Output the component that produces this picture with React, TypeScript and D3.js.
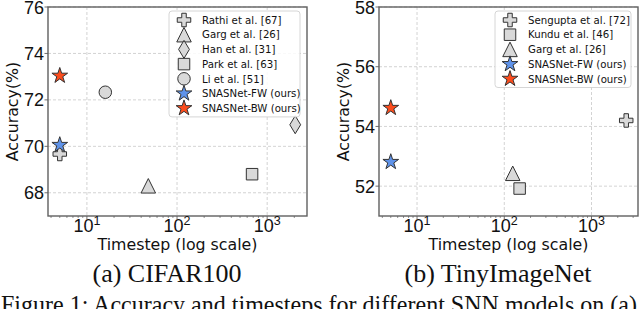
import * as React from "react";
import * as d3 from "d3";

// CIFAR100 panel
const cifarMethods = [
  "Rathi et al. [67]",
  "Garg et al. [26]",
  "Han et al. [31]",
  "Park et al. [63]",
  "Li et al. [51]",
  "SNASNet-FW (ours)",
  "SNASNet-BW (ours)",
];
const cifarMarkers = ["plus", "triangle", "diamond", "square", "circle", "starFW", "starBW"];
const cifarTimesteps = [5, 48, 2048, 680, 16, 5, 5];
const cifarAccuracy = [69.67, 68.3, 70.93, 68.8, 72.33, 70.06, 73.04];
const cifarYTicks = [68, 70, 72, 74, 76];

// TinyImageNet panel
const tinyMethods = [
  "Sengupta et al. [72]",
  "Kundu et al. [46]",
  "Garg et al. [26]",
  "SNASNet-FW (ours)",
  "SNASNet-BW (ours)",
];
const tinyMarkers = ["plus", "square", "triangle", "starFW", "starBW"];
const tinyTimesteps = [2500, 150, 125, 5, 5];
const tinyAccuracy = [54.2, 51.92, 52.43, 52.81, 54.62];
const tinyYTicks = [52, 54, 56, 58];

const xTickExponents = [1, 2, 3];

// custom marker shapes (size = marker width in px)
const plusType = {
  draw(ctx: any, s: number) {
    const a = s / 6;
    const pts = [
      [-a, -3 * a], [a, -3 * a], [a, -a], [3 * a, -a], [3 * a, a], [a, a],
      [a, 3 * a], [-a, 3 * a], [-a, a], [-3 * a, a], [-3 * a, -a], [-a, -a],
    ];
    ctx.moveTo(pts[0][0], pts[0][1]);
    pts.slice(1).forEach((p) => ctx.lineTo(p[0], p[1]));
    ctx.closePath();
  },
};
const triangleType = {
  draw(ctx: any, s: number) {
    const h = s / 2;
    ctx.moveTo(0, -h);
    ctx.lineTo(h, h);
    ctx.lineTo(-h, h);
    ctx.closePath();
  },
};
const diamondType = {
  draw(ctx: any, s: number) {
    ctx.moveTo(0, -s / 2);
    ctx.lineTo(0.3 * s, 0);
    ctx.lineTo(0, s / 2);
    ctx.lineTo(-0.3 * s, 0);
    ctx.closePath();
  },
};
const squareType = {
  draw(ctx: any, s: number) {
    ctx.rect(-s / 2, -s / 2, s, s);
  },
};
const circleType = {
  draw(ctx: any, s: number) {
    ctx.moveTo(s / 2, 0);
    ctx.arc(0, 0, s / 2, 0, 2 * Math.PI);
  },
};
const starType = {
  draw(ctx: any, s: number) {
    const r = s / 2;
    const ri = r * 0.382;
    for (let i = 0; i < 10; i++) {
      const ang = -Math.PI / 2 + (i * Math.PI) / 5;
      const rr = i % 2 === 0 ? r : ri;
      const x = rr * Math.cos(ang);
      const y = rr * Math.sin(ang);
      if (i === 0) ctx.moveTo(x, y);
      else ctx.lineTo(x, y);
    }
    ctx.closePath();
  },
};

const markerStyle: any = {
  plus: { type: plusType, size: 13.5, fill: "#d9d9d9" },
  triangle: { type: triangleType, size: 14.5, fill: "#d9d9d9" },
  diamond: { type: diamondType, size: 18, fill: "#d9d9d9" },
  square: { type: squareType, size: 11.5, fill: "#d9d9d9" },
  circle: { type: circleType, size: 12.5, fill: "#d9d9d9" },
  starFW: { type: starType, size: 16.5, fill: "#5f93ea" },
  starBW: { type: starType, size: 16.5, fill: "#fc4c1c" },
};

const markerPath = (kind: string) =>
  d3.symbol().type(markerStyle[kind].type).size(markerStyle[kind].size)() as string;

const tickFont = "Liberation Sans, Arial, sans-serif";
const labelFont = "DejaVu Sans, sans-serif";
const serifFont = "Liberation Serif, Times New Roman, serif";

function Panel(props: any) {
  const { left, right, top, bottom, yDomain, yTicks, methods, markers, timesteps, accuracy, legendWidth, caption } = props;

  // matplotlib-style 5% margin on the log axis
  const logExt = d3.extent(timesteps.map((t: number) => Math.log10(t))) as [number, number];
  const pad = (logExt[1] - logExt[0]) * 0.05;
  const x = d3
    .scaleLog()
    .domain([Math.pow(10, logExt[0] - pad), Math.pow(10, logExt[1] + pad)])
    .range([left, right]);
  const y = d3.scaleLinear().domain(yDomain).range([bottom, top]);

  const [dx0, dx1] = x.domain();
  const minor: number[] = [];
  for (let e = Math.floor(Math.log10(dx0)); e <= Math.ceil(Math.log10(dx1)); e++) {
    for (let k = 2; k <= 9; k++) {
      const v = k * Math.pow(10, e);
      if (v >= dx0 && v <= dx1) minor.push(v);
    }
  }

  const legRight = right - 7;
  const legTop = top + 4;
  const rowH = 14.7;
  const legH = methods.length * rowH + 3;
  const legLeft = legRight - legendWidth;
  const cx = (left + right) / 2;

  return (
    <g>
      {/* grid */}
      {xTickExponents.map((e) => (
        <line key={"gx" + e} x1={x(Math.pow(10, e))} x2={x(Math.pow(10, e))} y1={top} y2={bottom}
          stroke="#c8c8c8" strokeWidth={0.8} strokeDasharray="3,2" />
      ))}
      {yTicks.map((t: number) => (
        <line key={"gy" + t} x1={left} x2={right} y1={y(t)} y2={y(t)}
          stroke="#c8c8c8" strokeWidth={0.8} strokeDasharray="3,2" />
      ))}

      {/* points */}
      {markers.map((m: string, i: number) => (
        <path key={"p" + i} d={markerPath(m)}
          transform={`translate(${x(timesteps[i])},${y(accuracy[i])})`}
          fill={markerStyle[m].fill} stroke="#333" strokeWidth={1} strokeLinejoin="miter" />
      ))}

      {/* frame */}
      <rect x={left} y={top} width={right - left} height={bottom - top} fill="none" stroke="#606060" strokeWidth={1.4} />

      {/* x ticks */}
      {minor.map((v) => (
        <line key={"mx" + v} x1={x(v)} x2={x(v)} y1={bottom} y2={bottom + 2} stroke="#606060" strokeWidth={0.7} />
      ))}
      {xTickExponents.map((e) => (
        <g key={"tx" + e}>
          <line x1={x(Math.pow(10, e))} x2={x(Math.pow(10, e))} y1={bottom} y2={bottom + 3.5} stroke="#606060" strokeWidth={0.9} />
          <text x={x(Math.pow(10, e))} y={232} textAnchor="middle" fontFamily={tickFont} fontSize={18} fill="#111">
            <tspan>10</tspan>
            <tspan dy={-7.5} fontSize={12.5}>{e}</tspan>
          </text>
        </g>
      ))}

      {/* y ticks */}
      {yTicks.map((t: number) => (
        <g key={"ty" + t}>
          <line x1={left - 3.5} x2={left} y1={y(t)} y2={y(t)} stroke="#606060" strokeWidth={0.9} />
          <text x={left - 4} y={y(t) + 6.5} textAnchor="end" fontFamily={tickFont} fontSize={18} fill="#111">{t}</text>
        </g>
      ))}

      {/* axis labels */}
      <text x={cx} y={250} textAnchor="middle" fontFamily={labelFont} fontSize={15.8} fill="#111">Timestep (log scale)</text>
      <text transform={`translate(${left - 30},${(top + bottom) / 2}) rotate(-90)`} textAnchor="middle"
        fontFamily={labelFont} fontSize={15.8} fill="#111">Accuracy(%)</text>

      {/* legend */}
      <rect x={legLeft} y={legTop} width={legendWidth} height={legH} rx={3} ry={3}
        fill="white" fillOpacity={0.85} stroke="#cccccc" strokeWidth={0.8} />
      {methods.map((name: string, i: number) => {
        const ry = legTop + 9 + i * rowH;
        return (
          <g key={"l" + i}>
            <path d={markerPath(markers[i])} transform={`translate(${legLeft + 15},${ry})`}
              fill={markerStyle[markers[i]].fill} stroke="#333" strokeWidth={1} />
            <text x={legLeft + 33} y={ry + 3.7} fontFamily={labelFont} fontSize={10.2} fill="#111">{name}</text>
          </g>
        );
      })}

      {/* caption */}
      <text x={props.captionX} y={282} textAnchor="middle" fontFamily={serifFont} fontSize={26} fill="#111">{caption}</text>
    </g>
  );
}

export default function App() {
  return (
    <svg width={640} height={309} style={{ position: "absolute", left: 0, top: 0, background: "white" }}>
      <rect x={0} y={0} width={640} height={309} fill="white" />
      <Panel left={48} right={307} top={7} bottom={216} yDomain={[67, 76]} yTicks={cifarYTicks}
        methods={cifarMethods} markers={cifarMarkers} timesteps={cifarTimesteps} accuracy={cifarAccuracy}
        legendWidth={131} caption="(a) CIFAR100" captionX={167} />
      <Panel left={379} right={638} top={7} bottom={216} yDomain={[51, 58]} yTicks={tinyYTicks}
        methods={tinyMethods} markers={tinyMarkers} timesteps={tinyTimesteps} accuracy={tinyAccuracy}
        legendWidth={136} caption="(b) TinyImageNet" captionX={498} />
      <text x={1} y={313} fontFamily={serifFont} fontSize={26} fill="#111"
        textLength={636} lengthAdjust="spacingAndGlyphs">
        Figure 1: Accuracy and timesteps for different SNN models on (a)
      </text>
    </svg>
  );
}
